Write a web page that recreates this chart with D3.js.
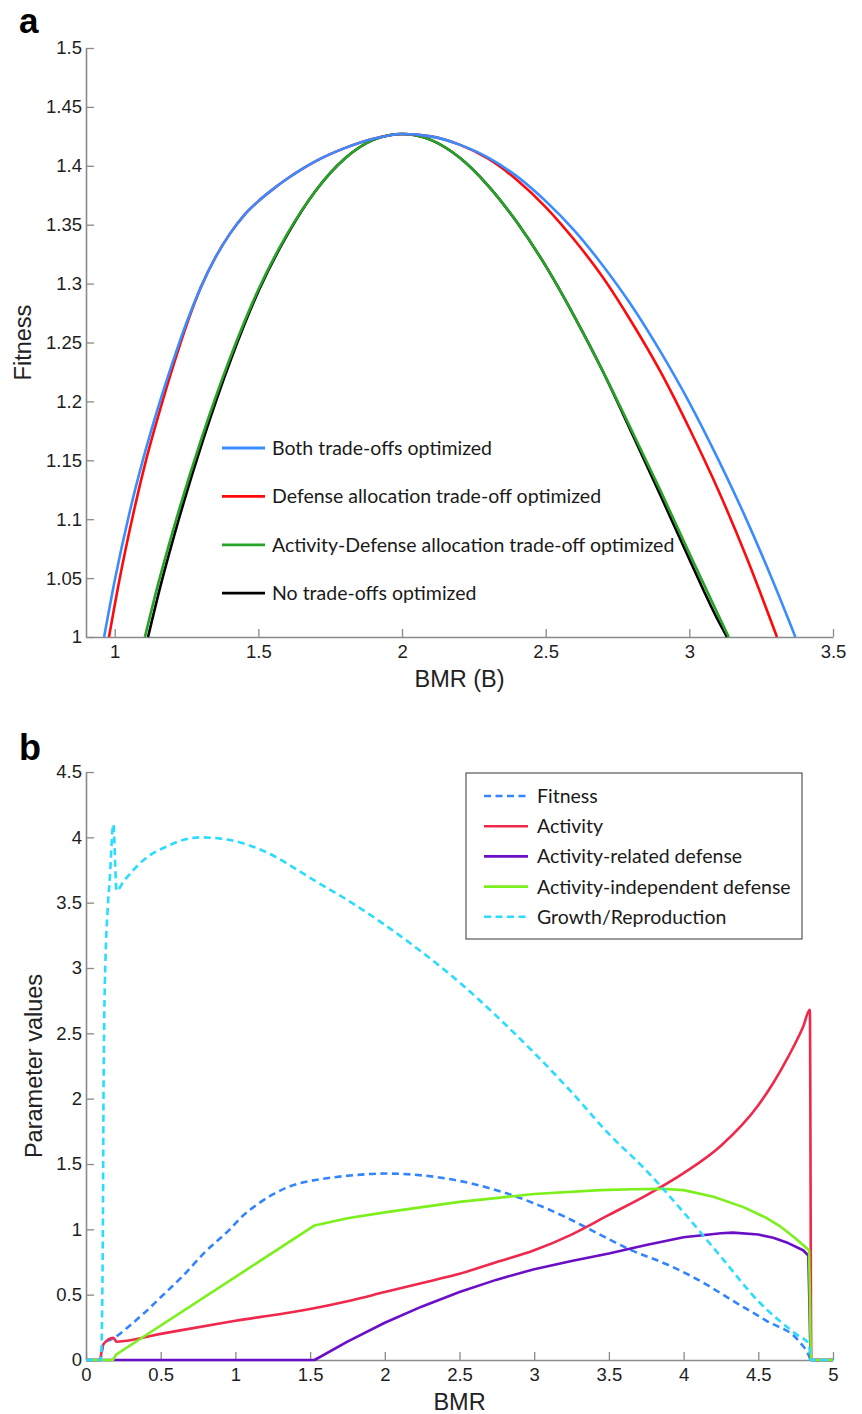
<!DOCTYPE html>
<html>
<head>
<meta charset="utf-8">
<script src="https://cdn.jsdelivr.net/npm/d3@7"></script>
<style>
  body { margin: 0; background: #fff; }
  svg { display: block; }
</style>
</head>
<body>
<script>
// ---- panel a : fitness vs BMR ----
var topXTicks = [1, 1.5, 2, 2.5, 3, 3.5];
var topYTicks = [1, 1.05, 1.1, 1.15, 1.2, 1.25, 1.3, 1.35, 1.4, 1.45, 1.5];

var bothX = [0.963, 1.0, 1.05, 1.1, 1.15, 1.2, 1.25, 1.3, 1.35, 1.4, 1.45, 1.5, 1.55, 1.6, 1.65, 1.7, 1.8, 1.9, 2.0, 2.1, 2.2, 2.3, 2.4, 2.5, 2.6, 2.7, 2.8, 2.9, 3.0, 3.1, 3.2, 3.3, 3.369];
var bothY = [1.0, 1.048, 1.104, 1.152, 1.194, 1.232, 1.267, 1.297, 1.322, 1.342, 1.358, 1.37, 1.38, 1.389, 1.397, 1.404, 1.415, 1.423, 1.427, 1.425, 1.418, 1.407, 1.391, 1.37, 1.345, 1.315, 1.281, 1.242, 1.199, 1.151, 1.099, 1.042, 1.0];

var defX = [0.98, 1.016, 1.064, 1.111, 1.159, 1.206, 1.253, 1.3, 1.35, 1.4, 1.45, 1.5, 1.55, 1.6, 1.65, 1.7, 1.8, 1.9, 2.0, 2.1, 2.2, 2.3, 2.4, 2.5, 2.6, 2.7, 2.8, 2.9, 3.0, 3.1, 3.2, 3.305];
var defY = [1.0, 1.048, 1.104, 1.152, 1.194, 1.232, 1.267, 1.297, 1.322, 1.342, 1.358, 1.37, 1.38, 1.389, 1.397, 1.404, 1.415, 1.423, 1.427, 1.425, 1.418, 1.406, 1.388, 1.365, 1.337, 1.305, 1.267, 1.225, 1.177, 1.125, 1.067, 1.0];

var actDefX = [1.105, 1.15, 1.2, 1.3, 1.4, 1.5, 1.6, 1.7, 1.8, 1.9, 2.0, 2.1, 2.2, 2.3, 2.4, 2.5, 2.6, 2.7, 2.8, 2.9, 3.0, 3.1, 3.137];
var actDefY = [1.0, 1.044, 1.088, 1.167, 1.236, 1.295, 1.342, 1.379, 1.406, 1.422, 1.427, 1.422, 1.407, 1.383, 1.352, 1.315, 1.272, 1.225, 1.175, 1.124, 1.071, 1.019, 1.0];

var noneX = [1.116, 1.16, 1.209, 1.307, 1.405, 1.503, 1.602, 1.7, 1.8, 1.9, 2.0, 2.1, 2.2, 2.3, 2.4, 2.5, 2.6, 2.7, 2.8, 2.9, 3.0, 3.1, 3.131];
var noneY = [1.0, 1.044, 1.088, 1.167, 1.236, 1.295, 1.342, 1.379, 1.406, 1.422, 1.427, 1.422, 1.407, 1.383, 1.352, 1.315, 1.272, 1.225, 1.173, 1.12, 1.066, 1.014, 1.0];

var topNames = ["Both trade-offs optimized", "Defense allocation trade-off optimized",
                "Activity-Defense allocation trade-off optimized", "No trade-offs optimized"];
var topColors = ["#3b8cff", "#ff0a0a", "#27a327", "#000000"];

// ---- panel b : parameter values vs BMR ----
var botXTicks = [0, 0.5, 1, 1.5, 2, 2.5, 3, 3.5, 4, 4.5, 5];
var botYTicks = [0, 0.5, 1, 1.5, 2, 2.5, 3, 3.5, 4, 4.5];

var fitX = [0, 0.095, 0.105, 0.116, 0.19, 0.3, 0.4, 0.5, 0.65, 0.8, 0.963, 1.05, 1.15, 1.25, 1.35, 1.45, 1.55, 1.65, 1.8, 2.0, 2.2, 2.4, 2.6, 2.8, 3.0, 3.2, 3.44, 3.63, 3.886, 4.11, 4.33, 4.555, 4.78, 4.84, 4.85, 5];
var fitY = [0, 0, 0.05, 0.12, 0.17, 0.27, 0.37, 0.48, 0.645, 0.83, 1.0, 1.104, 1.194, 1.267, 1.322, 1.358, 1.38, 1.397, 1.415, 1.427, 1.418, 1.391, 1.345, 1.281, 1.199, 1.099, 0.96, 0.85, 0.733, 0.606, 0.453, 0.3, 0.134, 0.03, 0, 0];

var activityX = [0, 0.094, 0.105, 0.116, 0.183, 0.205, 0.5, 1.0, 1.5, 1.75, 2.0, 2.25, 2.5, 2.75, 3.0, 3.25, 3.5, 3.75, 4.0, 4.25, 4.5, 4.6, 4.7, 4.8, 4.845, 4.855, 5];
var activityY = [0, 0, 0.07, 0.12, 0.17, 0.14, 0.2, 0.3, 0.39, 0.45, 0.52, 0.59, 0.66, 0.75, 0.84, 0.96, 1.11, 1.26, 1.43, 1.64, 1.95, 2.12, 2.32, 2.55, 2.68, 0, 0];

var relDefX = [0, 1.53, 1.75, 2.0, 2.25, 2.5, 2.75, 3.0, 3.25, 3.5, 3.75, 4.0, 4.25, 4.33, 4.5, 4.6, 4.7, 4.8, 4.835, 4.85, 5];
var relDefY = [0, 0, 0.14, 0.285, 0.41, 0.52, 0.615, 0.695, 0.758, 0.815, 0.88, 0.94, 0.97, 0.975, 0.96, 0.935, 0.895, 0.84, 0.8, 0, 0];

var indDefX = [0, 0.18, 0.2, 1.53, 1.75, 2.0, 2.5, 3.0, 3.44, 3.66, 3.855, 4.0, 4.2, 4.4, 4.55, 4.65, 4.75, 4.84, 4.852, 5];
var indDefY = [0, 0, 0.04, 1.03, 1.085, 1.13, 1.21, 1.27, 1.3, 1.307, 1.31, 1.3, 1.25, 1.17, 1.09, 1.02, 0.93, 0.84, 0, 0];

var growthX = [0, 0.1, 0.113, 0.117, 0.122, 0.13, 0.145, 0.16, 0.183, 0.205, 0.25, 0.317, 0.4, 0.54, 0.65, 0.76, 0.9, 1.0, 1.2, 1.43, 1.5, 1.75, 2.0, 2.25, 2.5, 2.75, 3.0, 3.25, 3.5, 3.75, 3.855, 4.0, 4.25, 4.5, 4.75, 4.84, 4.85, 5];
var growthY = [0, 0, 1.0, 2.0, 2.6, 3.05, 3.45, 3.7, 4.1, 3.59, 3.66, 3.75, 3.84, 3.93, 3.98, 4.0, 3.99, 3.97, 3.89, 3.74, 3.69, 3.52, 3.33, 3.12, 2.89, 2.63, 2.35, 2.05, 1.73, 1.45, 1.32, 1.13, 0.79, 0.45, 0.2, 0.12, 0, 0];

var botNames = ["Fitness", "Activity", "Activity-related defense", "Activity-independent defense", "Growth/Reproduction"];
var botColors = ["#3385ff", "#f0284c", "#6a0fc6", "#7cf01c", "#2adcff"];
var botDashed = [true, false, false, false, true];
var botSmooth = [true, true, false, false, true];

var svg = d3.select("body").append("svg")
    .attr("width", 862)
    .attr("height", 1414);

function pairs(xs, ys) {
  return xs.map(function(x, i) { return [x, ys[i]]; });
}

function drawAxes(x, y, xTicks, yTicks, yPos, xPos) {
  var fmt = d3.format("~g");
  var gx = svg.append("g")
    .attr("transform", "translate(0," + yPos + ")")
    .call(d3.axisBottom(x).tickValues(xTicks).tickFormat(fmt)
      .tickSizeInner(-8).tickSizeOuter(0).tickPadding(8));
  var gy = svg.append("g")
    .attr("transform", "translate(" + xPos + ",0)")
    .call(d3.axisLeft(y).tickValues(yTicks).tickFormat(fmt)
      .tickSizeInner(-8).tickSizeOuter(0).tickPadding(4));
  [gx, gy].forEach(function(g) {
    g.select(".domain").attr("stroke", "#8a8a8a").attr("stroke-width", 1.6);
    g.selectAll(".tick line").attr("stroke", "#8a8a8a").attr("stroke-width", 1.3);
    g.selectAll(".tick text")
      .attr("fill", "#1e1e1e")
      .style("font-family", "'Liberation Sans', Arial, sans-serif")
      .style("font-size", "18.5px");
  });
}

// ---------- panel a ----------
var xTop = d3.scaleLinear().domain([0.9, 3.5]).range([86, 833]);
var yTop = d3.scaleLinear().domain([1, 1.5]).range([637, 48]);

drawAxes(xTop, yTop, topXTicks, topYTicks, 637, 86);

var lineTop = d3.line()
  .x(function(d) { return xTop(d[0]); })
  .y(function(d) { return yTop(d[1]); })
  .curve(d3.curveMonotoneX);

var topSeries = [
  pairs(bothX, bothY), pairs(defX, defY), pairs(actDefX, actDefY), pairs(noneX, noneY)
];
// black underneath, blue on top
[3, 2, 1, 0].forEach(function(i) {
  svg.append("path")
    .datum(topSeries[i])
    .attr("fill", "none")
    .attr("stroke", topColors[i])
    .attr("stroke-width", 2.6)
    .attr("d", lineTop);
});

var topLegend = svg.append("g");
topNames.forEach(function(name, i) {
  var yy = 448 + i * 48.4;
  topLegend.append("line")
    .attr("x1", 222).attr("x2", 265).attr("y1", yy).attr("y2", yy)
    .attr("stroke", topColors[i]).attr("stroke-width", 2.8);
  topLegend.append("text")
    .attr("x", 272).attr("y", yy + 7)
    .style("font-family", "Lato, 'Open Sans', sans-serif")
    .style("font-size", "19.5px")
    .attr("fill", "#1a1a1a")
    .text(name);
});

svg.append("text")
  .attr("transform", "translate(31,342.5) rotate(-90)")
  .attr("text-anchor", "middle")
  .style("font-family", "'Liberation Sans', Arial, sans-serif")
  .style("font-size", "23.5px")
  .attr("fill", "#222")
  .text("Fitness");

svg.append("text")
  .attr("x", 459.5).attr("y", 687)
  .attr("text-anchor", "middle")
  .style("font-family", "'Liberation Sans', Arial, sans-serif")
  .style("font-size", "23.5px")
  .attr("fill", "#222")
  .text("BMR (B)");

svg.append("text")
  .attr("x", 19).attr("y", 33)
  .style("font-family", "'Liberation Sans', Arial, sans-serif")
  .style("font-size", "35px").style("font-weight", "bold")
  .text("a");

// ---------- panel b ----------
var xBot = d3.scaleLinear().domain([0, 5]).range([86, 833]);
var yBot = d3.scaleLinear().domain([0, 4.5]).range([1360, 772]);

drawAxes(xBot, yBot, botXTicks, botYTicks, 1360, 86);

var lineBotSmooth = d3.line()
  .x(function(d) { return xBot(d[0]); })
  .y(function(d) { return yBot(d[1]); })
  .curve(d3.curveMonotoneX);
var lineBot = d3.line()
  .x(function(d) { return xBot(d[0]); })
  .y(function(d) { return yBot(d[1]); });

var botSeries = [
  pairs(fitX, fitY), pairs(activityX, activityY), pairs(relDefX, relDefY),
  pairs(indDefX, indDefY), pairs(growthX, growthY)
];
botSeries.forEach(function(s, i) {
  svg.append("path")
    .datum(s)
    .attr("fill", "none")
    .attr("stroke", botColors[i])
    .attr("stroke-width", 2.6)
    .attr("stroke-linejoin", "round")
    .attr("stroke-dasharray", botDashed[i] ? "7,4.5" : null)
    .attr("d", botSmooth[i] ? lineBotSmooth : lineBot);
});

var botLegend = svg.append("g");
botLegend.append("rect")
  .attr("x", 466).attr("y", 773).attr("width", 336).attr("height", 166)
  .attr("fill", "#fff").attr("stroke", "#555").attr("stroke-width", 1.2);
botNames.forEach(function(name, i) {
  var yy = 796 + i * 30.2;
  botLegend.append("line")
    .attr("x1", 484).attr("x2", 528).attr("y1", yy).attr("y2", yy)
    .attr("stroke", botColors[i]).attr("stroke-width", 2.6)
    .attr("stroke-dasharray", botDashed[i] ? "7,4.5" : null);
  botLegend.append("text")
    .attr("x", 537).attr("y", yy + 7)
    .style("font-family", "Lato, 'Open Sans', sans-serif")
    .style("font-size", "19.5px")
    .attr("fill", "#1a1a1a")
    .text(name);
});

svg.append("text")
  .attr("transform", "translate(42,1066) rotate(-90)")
  .attr("text-anchor", "middle")
  .style("font-family", "'Liberation Sans', Arial, sans-serif")
  .style("font-size", "23.5px")
  .attr("fill", "#222")
  .text("Parameter values");

svg.append("text")
  .attr("x", 459.5).attr("y", 1410)
  .attr("text-anchor", "middle")
  .style("font-family", "'Liberation Sans', Arial, sans-serif")
  .style("font-size", "23.5px")
  .attr("fill", "#222")
  .text("BMR");

svg.append("text")
  .attr("x", 19).attr("y", 760)
  .style("font-family", "'Liberation Sans', Arial, sans-serif")
  .style("font-size", "36px").style("font-weight", "bold")
  .text("b");
</script>
</body>
</html>
